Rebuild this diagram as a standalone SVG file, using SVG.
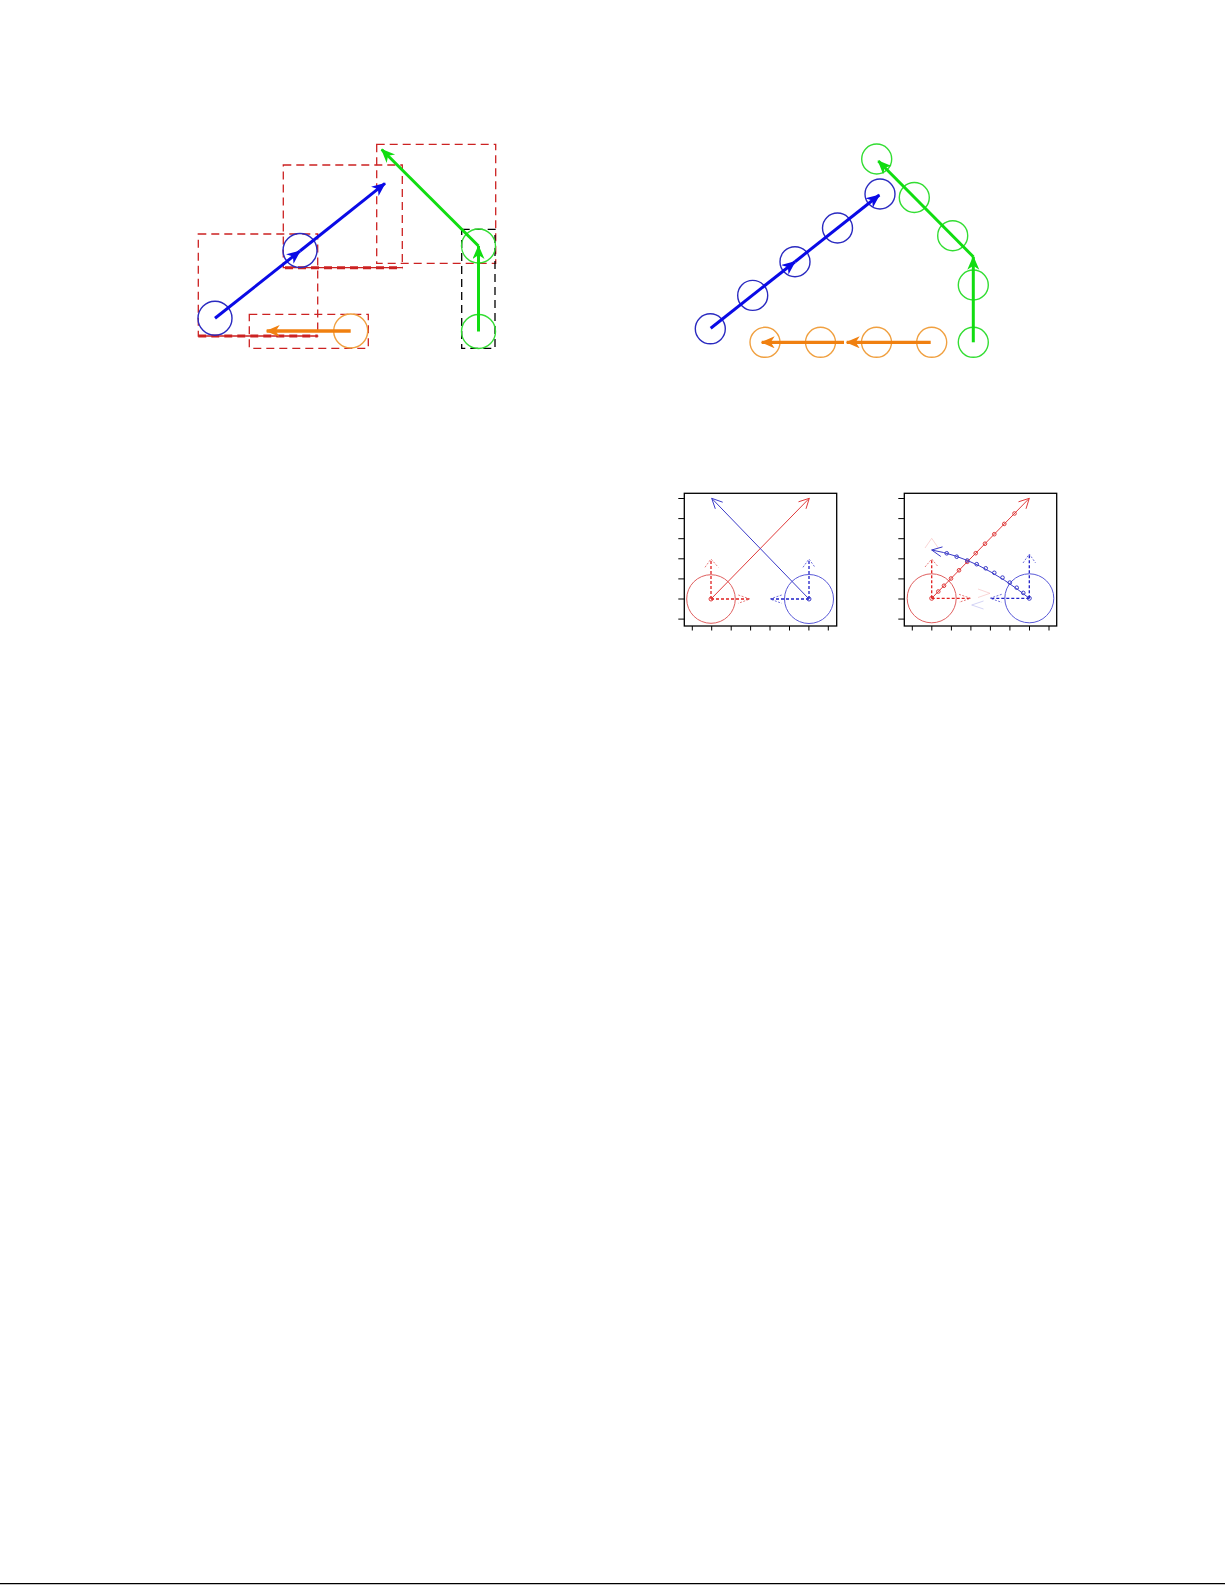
<svg xmlns="http://www.w3.org/2000/svg" width="1225" height="1585" viewBox="0 0 1225 1585">
<style>
.bg{fill:#ffffff}
.dash{fill:none;stroke:#cc2222;stroke-width:1.3;stroke-dasharray:8 5}
.dashk{fill:none;stroke:#000000;stroke-width:1.3;stroke-dasharray:8 5}
.dashthick{fill:none;stroke:#cc2222;stroke-width:3;stroke-dasharray:8 5}
.cb{fill:none;stroke:#2a2ac0;stroke-width:1.4}
.co{fill:none;stroke:#f0a040;stroke-width:1.4}
.cg{fill:none;stroke:#33dd33;stroke-width:1.4}
.ab{fill:none;stroke:#0a0ae6;stroke-width:3}
.ao{fill:none;stroke:#f08010;stroke-width:3.3}
.ag{fill:none;stroke:#11dd11;stroke-width:3}
.frame{fill:none;stroke:#000000;stroke-width:1.3}
.tick{fill:none;stroke:#000000;stroke-width:1}
.rl{fill:none;stroke:#e03a3a;stroke-width:1}
.bl{fill:none;stroke:#3a3ac8;stroke-width:1}
.rc{fill:none;stroke:#e06060;stroke-width:1}
.bc{fill:none;stroke:#5a5ad8;stroke-width:1}
.rd{fill:none;stroke:#e02020;stroke-width:1.3;stroke-dasharray:3 2}
.bd{fill:none;stroke:#2020c8;stroke-width:1.3;stroke-dasharray:3 2}
.rh{fill:none;stroke:#e05050;stroke-width:1;stroke-dasharray:2 1.5;opacity:0.75}
.bh{fill:none;stroke:#4040d0;stroke-width:1;stroke-dasharray:2 1.5;opacity:0.75}
.rf{fill:none;stroke:#f4b4b4;stroke-width:1;opacity:0.55}
.bf{fill:none;stroke:#b0b0ec;stroke-width:1;opacity:0.55}
.rdot{fill:none;stroke:#e03a3a;stroke-width:1}
.bdot{fill:none;stroke:#3a3ac8;stroke-width:1}
</style>
<defs>
<marker id="ahB" markerUnits="userSpaceOnUse" markerWidth="16" markerHeight="14" refX="13" refY="6" orient="auto"><path d="M0,0 L14,6 L0,12 L4,6 Z" fill="#0a0ae6"/></marker>
<marker id="ahO" markerUnits="userSpaceOnUse" markerWidth="16" markerHeight="14" refX="13" refY="6" orient="auto"><path d="M0,0 L14,6 L0,12 L4,6 Z" fill="#f08010"/></marker>
<marker id="ahG" markerUnits="userSpaceOnUse" markerWidth="16" markerHeight="14" refX="13" refY="6" orient="auto"><path d="M0,0 L14,6 L0,12 L4,6 Z" fill="#11dd11"/></marker>
</defs>
<rect class="bg" x="0" y="0" width="1225" height="1585"/>

<!-- Top-left diagram -->
<g id="left-boxes">
<rect class="dash" x="198.3" y="234" width="119.4" height="102"/>
<rect class="dash" x="283.3" y="165" width="119" height="102.7"/>
<rect class="dash" x="376.7" y="144.3" width="119" height="119"/>
<rect class="dash" x="249.3" y="314.3" width="119" height="34"/>
<rect class="dashk" x="461.7" y="229.3" width="33.3" height="119"/>
<line class="dashthick" x1="198.3" y1="336" x2="317.7" y2="336"/>
<line class="dashthick" x1="285" y1="267.7" x2="402.3" y2="267.7"/>
</g>
<g id="left-blue">
<circle class="cb" cx="215" cy="318.3" r="17"/>
<circle class="cb" cx="300" cy="250.5" r="17"/>
</g>
<g id="left-orange">
<circle class="co" cx="350.7" cy="331" r="17"/>
</g>
<g id="left-green">
<circle class="cg" cx="478.5" cy="331.5" r="17"/>
<circle class="cg" cx="478.5" cy="246" r="17"/>
</g>
<g id="left-connectors">
<line class="ab" x1="215" y1="318.3" x2="300" y2="251" marker-end="url(#ahB)"/>
<line class="ab" x1="300" y1="251" x2="385" y2="183.3" marker-end="url(#ahB)"/>
<line class="ao" x1="350.7" y1="331" x2="266.7" y2="331" marker-end="url(#ahO)"/>
<line class="ag" x1="478.5" y1="331.5" x2="478.5" y2="246" marker-end="url(#ahG)"/>
<line class="ag" x1="478.5" y1="246" x2="381.7" y2="149.5" marker-end="url(#ahG)"/>
</g>

<!-- Top-right diagram -->
<g id="right-blue">
<circle class="cb" cx="710.3" cy="328.8" r="15"/>
<circle class="cb" cx="752.7" cy="295.4" r="15"/>
<circle class="cb" cx="795" cy="261.7" r="15"/>
<circle class="cb" cx="837.5" cy="228" r="15"/>
<circle class="cb" cx="880" cy="194" r="15"/>
</g>
<g id="right-orange">
<circle class="co" cx="765" cy="342.3" r="15"/>
<circle class="co" cx="820.5" cy="342.3" r="15"/>
<circle class="co" cx="876.5" cy="342.3" r="15"/>
<circle class="co" cx="931.7" cy="342.3" r="15"/>
</g>
<g id="right-green">
<circle class="cg" cx="876.7" cy="159" r="15"/>
<circle class="cg" cx="914.3" cy="197.5" r="15"/>
<circle class="cg" cx="952.7" cy="235.7" r="15"/>
<circle class="cg" cx="973.3" cy="285" r="15"/>
<circle class="cg" cx="973.3" cy="342.3" r="15"/>
</g>
<g id="right-connectors">
<line class="ab" x1="710.7" y1="328.3" x2="795" y2="261.7" marker-end="url(#ahB)"/>
<line class="ab" x1="795" y1="261.7" x2="879.3" y2="195" marker-end="url(#ahB)"/>
<line class="ao" x1="930.7" y1="342.3" x2="846.7" y2="342.3" marker-end="url(#ahO)"/>
<line class="ao" x1="844" y1="342.3" x2="761.7" y2="342.3" marker-end="url(#ahO)"/>
<line class="ag" x1="973.3" y1="342.3" x2="973.3" y2="256.7" marker-end="url(#ahG)"/>
<line class="ag" x1="973.3" y1="256.7" x2="878.3" y2="161" marker-end="url(#ahG)"/>
</g>

<!-- Bottom-left plot -->
<g id="plot1">
<rect class="frame" x="684.3" y="493.3" width="152.4" height="132.7"/>
<path class="tick" d="M678.3,498.5H684.3M678.3,518.6H684.3M678.3,538.7H684.3M678.3,558.8H684.3M678.3,578.9H684.3M678.3,599H684.3M678.3,619.1H684.3"/>
<path class="tick" d="M692.3,626V630.5M711.7,626V630.5M731.2,626V630.5M750.6,626V630.5M770,626V630.5M789.5,626V630.5M808.9,626V630.5M828.3,626V630.5"/>
<circle class="rc" cx="711" cy="599" r="24.3"/>
<circle class="bc" cx="809" cy="599" r="24.5"/>
<circle class="rdot" cx="711" cy="599" r="2"/>
<circle class="bdot" cx="809" cy="599" r="2"/>
<line class="rd" x1="711" y1="599" x2="711" y2="559"/>
<polyline class="rh" points="705,567.3 711,559 718.3,567.3"/>
<line class="rd" x1="711" y1="599" x2="750" y2="599"/>
<polyline class="rh" points="738.3,595 750,599 738.3,603.3"/>
<line class="bd" x1="809" y1="599" x2="809" y2="559"/>
<polyline class="bh" points="803,567.3 809,559 815,567.3"/>
<line class="bd" x1="809" y1="599" x2="770" y2="599"/>
<polyline class="bh" points="781.7,595 770,599 781.7,603.3"/>
<line class="rl" x1="711" y1="599" x2="809.3" y2="498.3"/>
<polyline class="rl" points="798.5,501.8 809.3,498.3 806,508.8"/>
<line class="bl" x1="809" y1="599" x2="711.7" y2="498.3"/>
<polyline class="bl" points="722.7,502.2 711.7,498.3 715.3,508.8"/>
</g>

<!-- Bottom-right plot -->
<g id="plot2">
<rect class="frame" x="904.3" y="493.3" width="152.4" height="132.7"/>
<path class="tick" d="M898.3,498.5H904.3M898.3,518.6H904.3M898.3,538.7H904.3M898.3,558.8H904.3M898.3,578.9H904.3M898.3,599H904.3M898.3,619.1H904.3"/>
<path class="tick" d="M912.3,626V630.5M931.8,626V630.5M951.4,626V630.5M970.9,626V630.5M990.4,626V630.5M1009.9,626V630.5M1029.5,626V630.5M1049,626V630.5"/>
<circle class="rc" cx="931.7" cy="598.3" r="24.5"/>
<circle class="bc" cx="1029.3" cy="598.3" r="24.5"/>
<circle class="rdot" cx="931.7" cy="598.3" r="2"/>
<circle class="bdot" cx="1029.3" cy="598.3" r="2"/>
<polyline class="rf" points="925,548 931.7,538.3 938.3,548"/>
<polyline class="rf" points="978,589 990,593.3 978,597.5"/>
<polyline class="bf" points="983.5,601 971.7,605 983.5,609"/>
<line class="rd" x1="931.7" y1="598.3" x2="931.7" y2="559"/>
<polyline class="rh" points="925,567 931.7,559 938.3,567"/>
<line class="rd" x1="931.7" y1="598.3" x2="970.7" y2="598.3"/>
<polyline class="rh" points="959,594.3 970.7,598.3 959,602.3"/>
<line class="bd" x1="1029.3" y1="598.3" x2="1029.3" y2="554"/>
<polyline class="bh" points="1023,563 1029.3,554 1035.6,563"/>
<line class="bd" x1="1029.3" y1="598.3" x2="990" y2="598.3"/>
<polyline class="bh" points="1001.7,594.3 990,598.3 1001.7,602.3"/>
<line class="rl" x1="931.7" y1="598.3" x2="1029.3" y2="498.3"/>
<polyline class="rl" points="1018.5,501.8 1029.3,498.3 1026,508.8"/>
<g class="rdot">
<circle cx="938.3" cy="591.5" r="1.8"/>
<circle cx="944" cy="585.7" r="1.8"/>
<circle cx="951" cy="578.5" r="1.8"/>
<circle cx="959" cy="570.3" r="1.8"/>
<circle cx="967.3" cy="561.8" r="1.8"/>
<circle cx="975.7" cy="553.2" r="1.8"/>
<circle cx="985" cy="543.7" r="1.8"/>
<circle cx="994.3" cy="534.2" r="1.8"/>
<circle cx="1004.3" cy="523.9" r="1.8"/>
<circle cx="1014.5" cy="513.5" r="1.8"/>
</g>
<path class="bl" d="M1029.3,598.3 Q979,558 931.7,550"/>
<polyline class="bl" points="942.5,546.9 931.7,550 940.8,556.5"/>
<g class="bdot">
<circle cx="1023.3" cy="592.9" r="1.8"/>
<circle cx="1016.7" cy="587.7" r="1.8"/>
<circle cx="1009.8" cy="582.6" r="1.8"/>
<circle cx="1002.5" cy="577.6" r="1.8"/>
<circle cx="994.3" cy="572.8" r="1.8"/>
<circle cx="985.7" cy="568.3" r="1.8"/>
<circle cx="976.7" cy="564.2" r="1.8"/>
<circle cx="967.3" cy="560.5" r="1.8"/>
<circle cx="956.7" cy="556.7" r="1.8"/>
<circle cx="946.7" cy="553.3" r="1.8"/>
</g>
</g>

<g id="page-rule">
<line x1="0" y1="1583.7" x2="1225" y2="1583.7" stroke="#000000" stroke-width="1.3"/>
</g>
</svg>
